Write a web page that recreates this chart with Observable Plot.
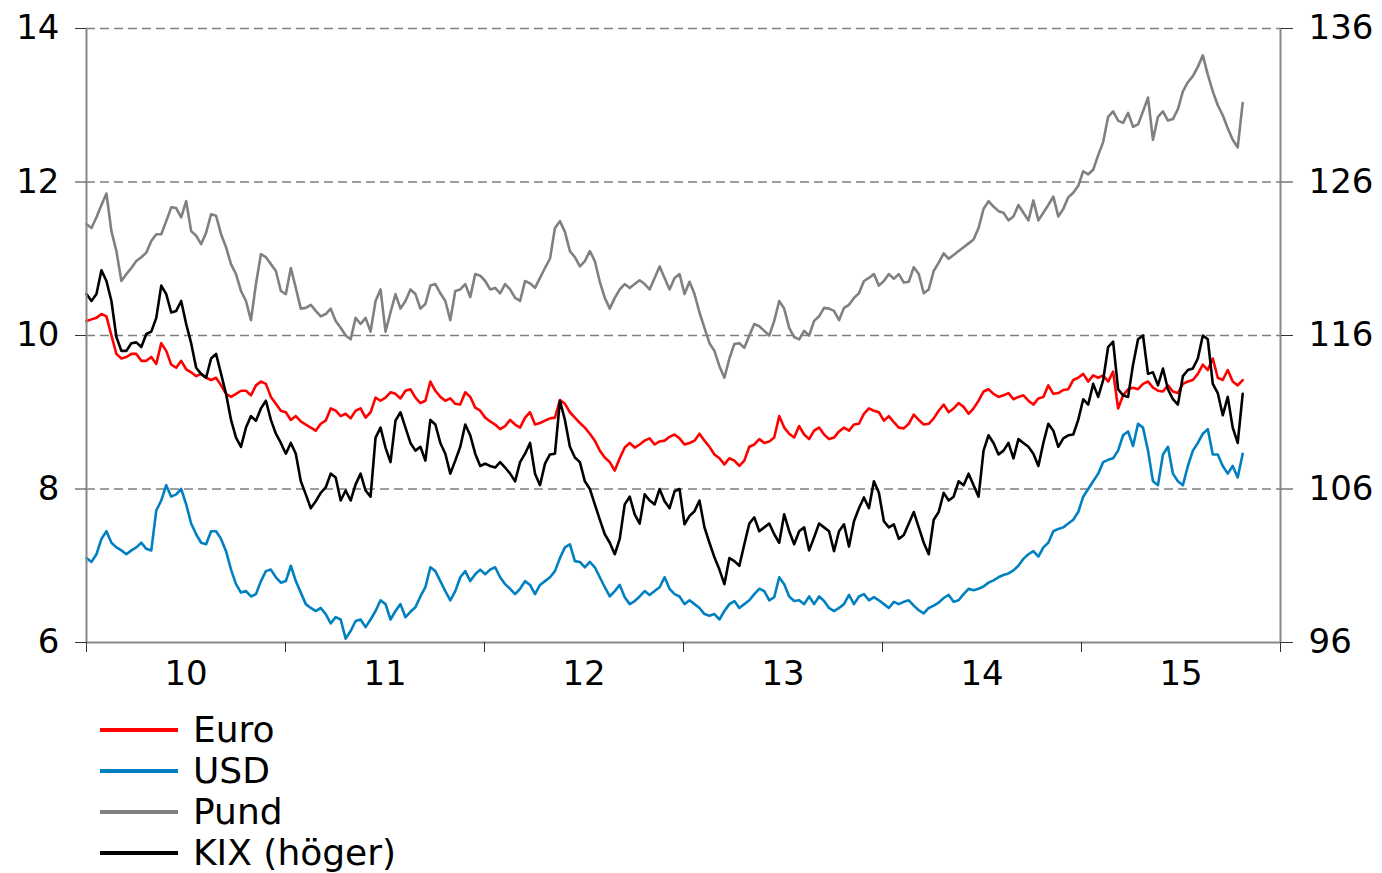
<!DOCTYPE html>
<html><head><meta charset="utf-8">
<script src="https://cdn.jsdelivr.net/npm/d3@7"></script>
<script src="https://cdn.jsdelivr.net/npm/@observablehq/plot@0.6"></script>
<style>
html,body{margin:0;padding:0;background:#fff;}
body{width:1382px;height:873px;overflow:hidden;font-family:"DejaVu Sans",Verdana,sans-serif;}
#legend{padding-top:9px;}
.row{height:41px;display:flex;align-items:center;}
.sw{margin-left:100px;width:78px;height:4px;}
.lb{margin-left:15px;font-size:36px;line-height:41px;color:#000;}
</style></head><body>
<div id="chart"></div>
<div id="legend"></div>
<script>
const startYear = 2010, endYear = 2015.81;
const euro = [10.19,10.21,10.23,10.28,10.25,10.0,9.76,9.7,9.72,9.76,9.76,9.67,9.67,9.72,9.63,9.9,9.8,9.62,9.58,9.67,9.56,9.52,9.47,9.5,9.45,9.42,9.45,9.35,9.24,9.2,9.24,9.28,9.28,9.22,9.35,9.4,9.37,9.2,9.11,9.02,
9.0,8.9,8.95,8.88,8.84,8.8,8.76,8.85,8.89,9.05,9.02,8.95,8.98,8.92,9.02,9.05,8.93,9.0,9.19,9.15,9.19,9.26,9.24,9.18,9.28,9.3,9.19,9.12,9.15,9.4,9.28,9.2,9.15,9.18,9.11,9.1,9.26,9.2,9.06,9.02,
8.93,8.88,8.84,8.78,8.82,8.9,8.84,8.8,8.93,9.0,8.84,8.86,8.89,8.92,8.93,9.16,9.11,9.0,8.93,8.86,8.8,8.72,8.63,8.5,8.41,8.35,8.24,8.4,8.54,8.6,8.54,8.58,8.63,8.66,8.58,8.62,8.63,8.68,8.71,8.66,
8.58,8.6,8.63,8.72,8.63,8.55,8.45,8.4,8.32,8.4,8.37,8.3,8.37,8.55,8.58,8.65,8.6,8.62,8.67,8.95,8.8,8.72,8.67,8.82,8.71,8.65,8.76,8.8,8.71,8.65,8.67,8.75,8.8,8.76,8.84,8.85,8.98,9.05,9.02,9.0,
8.89,8.95,8.87,8.8,8.79,8.85,8.97,8.9,8.84,8.85,8.92,9.02,9.1,9.0,9.05,9.12,9.07,8.98,9.05,9.15,9.27,9.3,9.24,9.2,9.22,9.25,9.17,9.2,9.22,9.15,9.1,9.18,9.2,9.35,9.24,9.25,9.29,9.3,9.42,9.45,
9.5,9.4,9.48,9.45,9.48,9.4,9.53,9.05,9.22,9.3,9.32,9.3,9.37,9.4,9.32,9.28,9.27,9.35,9.27,9.25,9.37,9.4,9.42,9.5,9.62,9.55,9.7,9.45,9.42,9.55,9.4,9.35,9.42];
const usd = [7.1,7.05,7.15,7.35,7.45,7.3,7.24,7.2,7.15,7.2,7.24,7.3,7.22,7.2,7.72,7.85,8.05,7.9,7.93,8.0,7.8,7.55,7.41,7.3,7.28,7.45,7.45,7.35,7.19,6.95,6.76,6.65,6.67,6.6,6.63,6.8,6.93,6.95,6.85,6.78,
6.8,7.0,6.8,6.65,6.5,6.45,6.41,6.45,6.37,6.25,6.33,6.3,6.05,6.15,6.28,6.3,6.2,6.3,6.41,6.55,6.5,6.3,6.41,6.5,6.33,6.4,6.46,6.6,6.72,6.98,6.93,6.8,6.67,6.55,6.67,6.85,6.93,6.8,6.89,6.95,
6.89,6.95,6.98,6.85,6.76,6.7,6.63,6.7,6.8,6.75,6.63,6.75,6.8,6.85,6.93,7.1,7.24,7.28,7.06,7.05,6.98,7.05,6.98,6.85,6.72,6.6,6.67,6.75,6.59,6.5,6.54,6.6,6.67,6.62,6.67,6.72,6.85,6.7,6.63,6.6,
6.5,6.55,6.5,6.45,6.37,6.35,6.37,6.3,6.41,6.5,6.54,6.45,6.5,6.55,6.63,6.7,6.67,6.55,6.59,6.85,6.76,6.6,6.54,6.55,6.5,6.6,6.5,6.6,6.54,6.45,6.41,6.45,6.5,6.62,6.5,6.6,6.63,6.55,6.59,6.55,
6.5,6.45,6.53,6.5,6.53,6.55,6.48,6.42,6.38,6.45,6.48,6.52,6.58,6.62,6.53,6.55,6.63,6.7,6.68,6.7,6.73,6.78,6.81,6.85,6.88,6.9,6.94,7.0,7.09,7.15,7.19,7.12,7.24,7.3,7.45,7.48,7.5,7.55,7.6,7.7,
7.9,8.0,8.1,8.2,8.35,8.38,8.4,8.5,8.7,8.75,8.56,8.85,8.8,8.5,8.1,8.05,8.45,8.55,8.2,8.1,8.05,8.3,8.5,8.6,8.72,8.78,8.45,8.45,8.3,8.2,8.3,8.15,8.46];
const pund = [11.45,11.4,11.54,11.7,11.85,11.36,11.1,10.71,10.8,10.88,10.97,11.02,11.08,11.23,11.32,11.32,11.49,11.67,11.66,11.54,11.75,11.36,11.3,11.19,11.34,11.58,11.56,11.32,11.15,10.93,10.8,10.58,10.45,10.2,10.67,11.06,11.02,10.93,10.84,10.58,
10.54,10.88,10.62,10.35,10.36,10.4,10.32,10.25,10.28,10.35,10.19,10.1,10.0,9.95,10.23,10.15,10.23,10.05,10.45,10.6,10.05,10.3,10.54,10.35,10.45,10.6,10.54,10.35,10.41,10.65,10.67,10.55,10.45,10.2,10.58,10.6,10.67,10.5,10.8,10.78,
10.71,10.6,10.62,10.55,10.67,10.6,10.49,10.45,10.71,10.68,10.62,10.75,10.88,11.0,11.4,11.49,11.35,11.1,11.02,10.9,10.97,11.1,10.97,10.7,10.49,10.35,10.49,10.6,10.67,10.62,10.67,10.72,10.67,10.6,10.75,10.9,10.75,10.6,10.75,10.8,
10.54,10.7,10.54,10.3,10.1,9.9,9.8,9.6,9.45,9.7,9.89,9.9,9.84,10.0,10.15,10.12,10.06,10.0,10.19,10.45,10.35,10.1,9.98,9.95,10.06,10.0,10.19,10.25,10.36,10.35,10.32,10.2,10.36,10.4,10.49,10.55,10.71,10.75,10.8,10.65,
10.71,10.8,10.74,10.8,10.69,10.7,10.89,10.8,10.55,10.6,10.84,10.95,11.07,11.0,11.05,11.1,11.15,11.2,11.25,11.4,11.65,11.75,11.68,11.62,11.6,11.5,11.55,11.7,11.6,11.5,11.76,11.5,11.6,11.7,11.81,11.55,11.65,11.8,11.86,11.95,
12.14,12.1,12.16,12.35,12.52,12.85,12.92,12.8,12.77,12.9,12.72,12.75,12.92,13.1,12.55,12.85,12.92,12.8,12.82,12.95,13.18,13.3,13.38,13.5,13.65,13.4,13.18,13.0,12.87,12.7,12.55,12.45,13.03];
const kix = [118.7,118.25,118.7,120.25,119.55,118.25,115.9,115.0,115.0,115.5,115.55,115.25,116.1,116.25,117.15,119.25,118.7,117.5,117.6,118.25,116.75,115.5,113.9,113.5,113.25,114.5,114.8,113.5,112.2,110.5,109.35,108.75,110.0,110.75,110.45,111.25,111.75,110.5,109.6,109.0,
108.3,109.0,108.3,106.5,105.65,104.75,105.2,105.75,106.1,107.0,106.75,105.25,105.9,105.25,106.3,107.0,105.9,105.5,109.35,110.0,108.7,107.75,110.45,111.0,110.0,109.0,108.5,108.75,107.85,110.5,110.2,109.0,108.3,107.0,107.85,108.75,110.2,109.5,108.3,107.5,
107.65,107.5,107.4,107.75,107.4,107.0,106.5,107.75,108.3,109.0,107.0,106.25,107.65,108.25,108.3,111.75,110.5,108.75,108.05,107.75,106.5,106.0,105.0,104.0,103.05,102.5,101.75,102.75,105.0,105.5,104.35,103.75,105.65,105.25,105.0,106.0,105.2,104.75,105.85,106.0,
103.7,104.25,104.55,105.25,103.5,102.5,101.55,100.75,99.8,101.5,101.3,101.0,102.4,103.75,104.15,103.25,103.5,103.75,103.05,102.5,104.35,103.25,102.4,103.25,103.5,102.0,102.85,103.75,103.5,103.25,101.95,103.25,103.7,102.25,103.9,104.75,105.45,104.75,106.5,105.75,
103.9,103.5,103.7,102.75,103.0,103.75,104.5,103.5,102.5,101.75,104.0,104.5,105.75,105.25,105.5,106.5,106.25,107.0,106.25,105.5,108.5,109.5,109.0,108.25,108.5,109.0,108.0,109.25,109.0,108.75,108.3,107.5,109.0,110.25,109.8,108.75,109.3,109.5,109.55,110.5,
111.85,111.5,112.85,112.0,113.1,115.25,115.6,112.5,112.1,112.0,114.1,115.75,116.0,113.5,113.6,112.75,113.85,112.5,111.85,111.5,113.35,113.75,113.85,114.5,116.0,115.75,112.85,112.25,110.8,112.0,110.0,109.0,112.2];

const yearTicks = [2010, 2011, 2012, 2013, 2014, 2015, 2016];
const yearLabels = ["10", "11", "12", "13", "14", "15"];
const leftTicks = [6, 8, 10, 12, 14];
const rightTicks = [96, 106, 116, 126, 136];
const seriesNames = ["Euro", "USD", "Pund", "KIX (höger)"];
const seriesColors = ["#ff0000", "#0080c0", "#808080", "#000000"];

const n = euro.length;
const step = (endYear - startYear) / (n - 1);
const toLeft = k => 6 + (k - 96) / 5;
const toRight = v => 96 + (v - 6) * 5;
const rows = (vals, f) => vals.map((v, i) => ({t: startYear + i * step, v: f ? f(v) : v}));

const seriesData = [rows(euro), rows(usd), rows(pund), rows(kix, toLeft)];

const plot = Plot.plot({
  width: 1382, height: 700,
  marginLeft: 86, marginRight: 102, marginTop: 28, marginBottom: 58,
  style: {fontFamily: "'DejaVu Sans', Verdana, sans-serif", fontSize: "34px", color: "#000", background: "#fff", overflow: "visible"},
  x: {type: "linear", domain: [2010, 2016]},
  y: {domain: [6, 14]},
  marks: [
    Plot.ruleY(leftTicks.slice(1), {stroke: "#7f7f7f", strokeWidth: 1.5, strokeDasharray: "9,5"}),
    ...seriesData.map((d, k) => Plot.line(d, {x: "t", y: "v", stroke: seriesColors[k], strokeWidth: 2.6, strokeLinejoin: "round"})),
    Plot.ruleX([2010, 2016], {stroke: "#888", strokeWidth: 2}),
    Plot.ruleY([6], {stroke: "#888", strokeWidth: 2}),
    Plot.axisY(leftTicks, {anchor: "left", tickSize: 11, tickPadding: 16, fontSize: 34, label: null, stroke: "#333",
      tickFormat: d => String(d)}),
    Plot.axisY(rightTicks.map(toLeft), {anchor: "right", tickSize: 12, tickPadding: 16, fontSize: 34, label: null, stroke: "#333",
      tickFormat: d => String(Math.round(toRight(d)))}),
    Plot.axisX(yearTicks, {anchor: "bottom", tickSize: 10, tickFormat: () => "", label: null, stroke: "#333"}),
    Plot.axisX(yearLabels.map((_, i) => 2010.5 + i), {anchor: "bottom", tickSize: 0, tickPadding: 18, fontSize: 34, label: null,
      tickFormat: d => yearLabels[Math.round(d - 2010.5)]})
  ]
});
document.getElementById("chart").appendChild(plot);

const legend = document.getElementById("legend");
seriesNames.forEach((name, k) => {
  const row = document.createElement("div");
  row.className = "row";
  const sw = document.createElement("div");
  sw.className = "sw";
  sw.style.background = seriesColors[k];
  const lb = document.createElement("div");
  lb.className = "lb";
  lb.textContent = name;
  row.appendChild(sw); row.appendChild(lb);
  legend.appendChild(row);
});
</script></body></html>
